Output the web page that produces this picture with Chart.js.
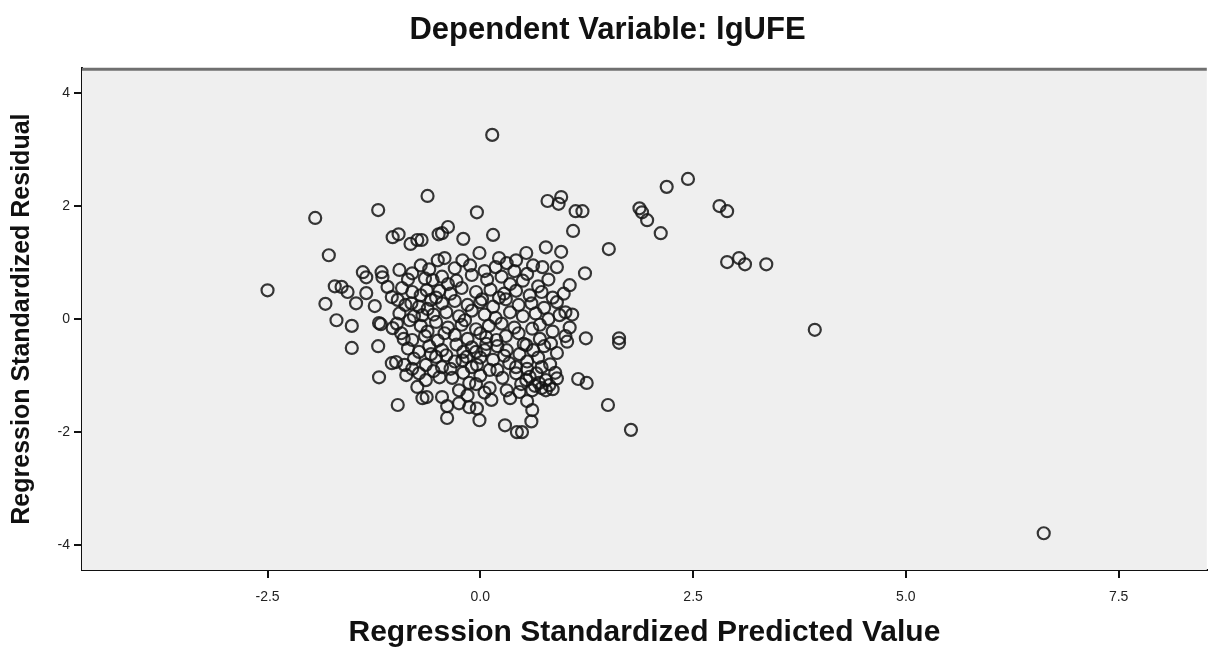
<!DOCTYPE html>
<html>
<head>
<meta charset="utf-8">
<script src="https://cdn.jsdelivr.net/npm/chart.js@4"></script>
<style>
  html, body { margin: 0; padding: 0; background: #ffffff; }
  #wrap { width: 1215px; height: 651px; position: relative; }
</style>
</head>
<body>
<div id="wrap"><canvas id="c"></canvas></div>
<script>
const chartTitle = 'Dependent Variable: lgUFE';
const xAxisTitle = 'Regression Standardized Predicted Value';
const yAxisTitle = 'Regression Standardized Residual';
const xTicks = [-2.5, 0.0, 2.5, 5.0, 7.5];
const yTicks = [-4, -2, 0, 2, 4];

// [standardized predicted value, standardized residual]
const outlierPoints = [
  [-2.50,0.51],[-1.94,1.79],[-1.78,1.13],[-1.20,1.93],[0.14,3.26],[-0.62,2.18],[-0.04,1.89],
  [2.44,2.48],[2.19,2.34],[0.95,2.16],[0.92,2.04],[0.79,2.09],[1.12,1.91],[1.20,1.91],[1.09,1.56],
  [1.51,1.24],[1.23,0.81],[1.87,1.96],[1.90,1.89],[1.96,1.75],[2.12,1.52],[2.81,2.00],[2.90,1.91],
  [2.90,1.01],[3.04,1.08],[3.11,0.97],[3.36,0.97],[3.93,-0.19],[6.62,-3.79],[1.63,-0.34],[1.63,-0.42],
  [1.15,-1.06],[1.25,-1.13],[1.50,-1.52],[1.77,-1.96]
];
const upperPoints = [
  [-0.45,1.52],[-0.38,1.63],[-0.20,1.42],[0.15,1.49],[0.77,1.27],[0.95,1.19],[0.73,0.92],[0.90,0.92],
  [0.54,1.17],[0.42,1.04],[-0.01,1.17],[0.22,1.08],[0.31,0.99],[-0.21,1.04],[-0.42,1.08],[-0.69,1.40],
  [-1.03,1.45],[-0.96,1.50],[-0.82,1.33],[-0.74,1.40],[-0.49,1.50],[-0.95,0.87],[-0.50,1.04],[-0.80,0.81]
];
const leftPoints = [
  [-1.38,0.83],[-1.34,0.74],[-1.16,0.83],[-1.15,0.74],[-1.71,0.58],[-1.63,0.57],[-1.56,0.48],[-1.82,0.27],
  [-1.69,-0.02],[-1.51,-0.12],[-1.46,0.28],[-1.34,0.46],[-1.24,0.23],[-1.19,-0.07],[-1.04,0.39],[-0.97,0.34],
  [-1.09,0.57],[-0.92,0.55],[-0.81,0.28],[-0.83,-0.02],[-0.68,0.07],[-0.58,0.34],[-0.63,0.51],[-0.56,0.69],
  [-1.51,-0.51],[-1.20,-0.48],[-1.17,-0.09],[-1.03,-0.16],[-1.19,-1.03],[-0.97,-1.52],[-1.04,-0.78],[-0.99,-0.76],
  [-0.89,-0.81],[-0.87,-0.99],[-0.74,-1.20],[-0.68,-1.40],[-0.72,-0.96],[-0.93,-0.25],[-0.80,-0.37],[-0.72,-0.58],
  [-0.52,-0.67]
];
const lowerPoints = [
  [1.24,-0.34],[0.83,-0.43],[1.02,-0.40],[0.93,0.07],[0.61,-0.17],[0.54,-0.46],
  [-0.39,-1.54],[-0.39,-1.75],[-0.04,-1.58],[-0.01,-1.79],[0.29,-1.88],[0.43,-2.00],[0.49,-2.00],[0.60,-1.81],
  [0.61,-1.61],[0.13,-1.43],[-0.63,-1.38],[-0.45,-1.38],[-0.25,-1.49],[-0.13,-1.56],
  [0.31,-1.26],[0.46,-1.29],[0.61,-1.26],[0.77,-1.26],[0.42,-0.96],[0.54,-1.08],[0.69,-1.13],[0.81,-1.17],
  [0.66,-0.96],[0.77,-1.08],[0.34,-0.78],[0.42,-0.85],[0.11,-0.90],[0.26,-1.04],[0.11,-1.22],[-0.13,-1.13],
  [-0.33,-1.04],[-0.48,-1.03],[-0.64,-1.08],[-0.25,-1.26],
  [-0.64,-0.81],[-0.45,-0.85],[-0.21,-0.73],[-0.04,-0.81],[-0.40,-0.64],[-0.16,-0.67],
  [0.31,-0.55],[0.46,-0.62],[0.51,-0.44],[0.07,-0.32],[0.19,-0.37],[0.07,-0.44],[-0.05,-0.58],
  [0.05,-1.30],[-0.05,-1.15],[0.35,-1.40],[0.90,-1.05],[-0.15,-1.35],[0.55,-1.45],
  [0.64,-1.18],[0.72,-1.22],[0.85,-1.24],[0.58,-1.02],[0.48,-1.15]
];
const corePoints = [
  [-0.30,0.90],[-0.12,0.95],[0.05,0.85],[0.18,0.92],[0.40,0.85],[0.55,0.80],[-0.60,0.88],[-0.70,0.95],[0.62,0.95],[1.05,0.60],[0.98,0.45],
  [-0.85,0.70],[-0.65,0.72],[-0.45,0.75],[-0.28,0.68],[-0.10,0.78],[0.08,0.70],[0.25,0.75],[0.35,0.62],[0.50,0.68],[0.68,0.58],[0.80,0.70],[-0.38,0.62],
  [-0.80,0.48],[-0.70,0.42],[-0.48,0.50],[-0.35,0.45],[-0.22,0.55],[-0.05,0.48],[0.12,0.52],[0.28,0.45],[0.42,0.50],[0.58,0.42],[0.72,0.48],[0.85,0.38],[-0.52,0.38],[0.02,0.35],
  [-0.88,0.25],[-0.72,0.22],[-0.45,0.28],[-0.30,0.32],[-0.15,0.25],[0.00,0.30],[0.15,0.22],[0.30,0.35],[0.45,0.25],[0.60,0.28],[0.75,0.20],[0.90,0.30],[1.00,0.12],[-0.62,0.18],[0.22,0.38],
  [-0.95,0.10],[-0.78,0.05],[-0.55,0.08],[-0.40,0.12],[-0.25,0.05],[-0.10,0.15],[0.05,0.08],[0.18,0.02],[0.35,0.12],[0.50,0.05],[0.65,0.10],[0.80,0.00],[1.08,0.08],[-0.18,-0.02],
  [-0.98,-0.08],[-0.70,-0.12],[-0.52,-0.05],[-0.38,-0.15],[-0.22,-0.10],[-0.05,-0.18],[0.10,-0.12],[0.25,-0.08],[0.40,-0.15],[0.70,-0.10],[0.85,-0.22],[1.05,-0.15],[-0.62,-0.22],
  [-0.90,-0.35],[-0.65,-0.30],[-0.50,-0.38],[-0.30,-0.28],[-0.15,-0.35],[0.00,-0.25],[0.30,-0.30],[0.45,-0.25],[0.70,-0.35],[1.00,-0.30],[-0.42,-0.25],
  [-0.85,-0.52],[-0.60,-0.48],[-0.45,-0.55],[-0.28,-0.45],[-0.10,-0.50],[0.05,-0.55],[0.20,-0.48],[0.62,-0.55],[0.75,-0.48],[0.90,-0.60],[-0.20,-0.58],
  [-0.78,-0.70],[-0.58,-0.62],[-0.30,-0.75],[0.00,-0.68],[0.15,-0.72],[0.28,-0.65],[0.55,-0.75],[0.68,-0.68],[0.82,-0.80],[-0.10,-0.85],
  [-0.55,-0.92],[-0.35,-0.88],[-0.20,-0.95],[0.00,-1.00],[0.20,-0.90],[0.55,-0.88],[0.72,-0.85],[0.88,-0.95],[-0.80,-0.88]
];

const allPoints = [].concat(outlierPoints, upperPoints, leftPoints, lowerPoints, corePoints)
  .map(p => ({ x: p[0], y: p[1] }));

const FONT = 'Liberation Sans, Arial, sans-serif';

const areaPlugin = {
  id: 'areaPlugin',
  beforeDatasetsDraw(chart) {
    const { ctx, chartArea: a } = chart;
    ctx.save();
    ctx.fillStyle = '#efefef';
    ctx.fillRect(a.left, a.top, a.right - a.left, a.bottom - a.top);
    ctx.restore();
  },
  afterDraw(chart) {
    const { ctx, chartArea: a } = chart;
    ctx.save();
    ctx.strokeStyle = '#707070';
    ctx.lineWidth = 3;
    ctx.beginPath();
    ctx.moveTo(a.left, a.top + 1);
    ctx.lineTo(a.right, a.top + 1);
    ctx.stroke();
    ctx.restore();
  }
};

new Chart(document.getElementById('c'), {
  type: 'scatter',
  data: {
    datasets: [{
      data: allPoints,
      pointRadius: 6,
      pointBorderWidth: 2.2,
      pointBackgroundColor: 'rgba(0,0,0,0)',
      pointBorderColor: 'rgba(20,20,20,0.85)',
      pointHoverRadius: 6
    }]
  },
  plugins: [areaPlugin],
  options: {
    responsive: true,
    maintainAspectRatio: false,
    animation: false,
    layout: { padding: { left: 0, right: 0, top: 0, bottom: 0 } },
    plugins: {
      legend: { display: false },
      tooltip: { enabled: false },
      title: {
        display: true,
        text: chartTitle,
        color: '#111',
        font: { family: FONT, size: 31, weight: 'bold' },
        padding: { top: 12, bottom: 19 }
      }
    },
    scales: {
      x: {
        type: 'linear',
        min: -4.68,
        max: 8.536,
        afterBuildTicks: s => { s.ticks = xTicks.map(v => ({ value: v })); },
        afterFit: s => { s.height = 81; },
        border: { display: true, color: '#111', width: 2 },
        grid: { display: true, drawOnChartArea: false, drawTicks: true, tickLength: 8, color: '#111', lineWidth: 2 },
        ticks: {
          color: '#222',
          font: { family: FONT, size: 14 },
          padding: 11,
          maxRotation: 0,
          callback: v => v.toFixed(1)
        },
        title: {
          display: true,
          text: xAxisTitle,
          color: '#111',
          font: { family: FONT, size: 30, weight: 'bold' },
          padding: { top: 0, bottom: 0 }
        }
      },
      y: {
        type: 'linear',
        min: -4.44,
        max: 4.44,
        afterBuildTicks: s => { s.ticks = yTicks.map(v => ({ value: v })); },
        afterFit: s => { s.width = 82; },
        border: { display: true, color: '#111', width: 2 },
        grid: { display: true, drawOnChartArea: false, drawTicks: true, tickLength: 8, color: '#111', lineWidth: 2 },
        ticks: {
          color: '#222',
          font: { family: FONT, size: 14 },
          padding: 4,
          callback: v => String(v)
        },
        title: {
          display: true,
          text: yAxisTitle,
          color: '#111',
          font: { family: FONT, size: 25, weight: 'bold' },
          padding: { top: 7, bottom: 0 }
        }
      }
    }
  }
});
</script>
</body>
</html>
